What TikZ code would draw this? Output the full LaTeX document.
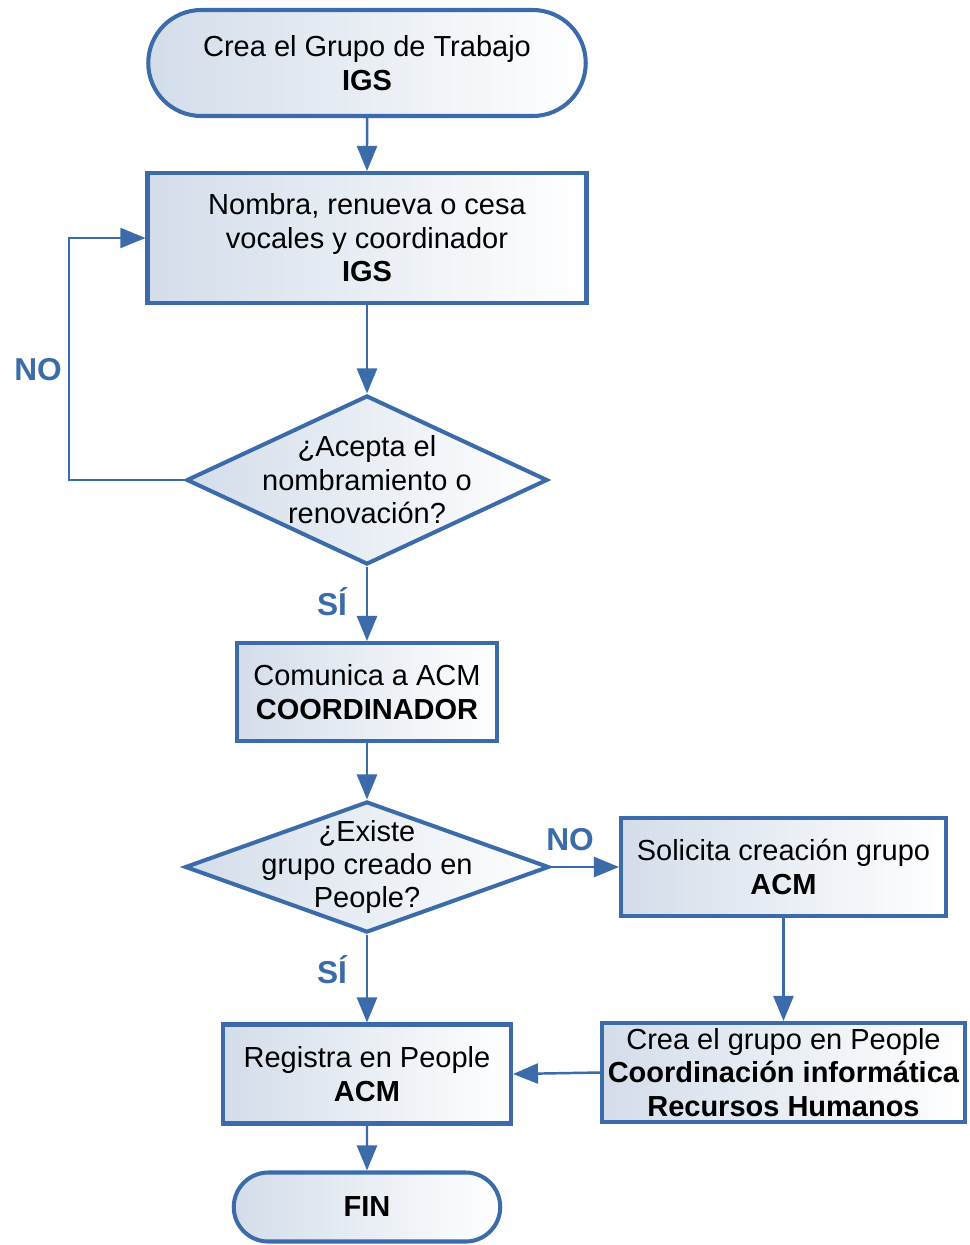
\documentclass[tikz,border=0pt]{standalone}
\usepackage{fontspec}
\setmainfont{Liberation Sans}
\usepackage{tikz}
\usetikzlibrary{arrows.meta,shapes.geometric,shapes.misc}

\definecolor{flowblue}{HTML}{3C6BA9}
\definecolor{flowfill}{HTML}{D3DDEA}
\newcommand{\zw}[1]{\makebox[0pt]{#1}}

\begin{document}
\begin{tikzpicture}[
			base/.style={draw=flowblue, line width=2.3pt, left color=flowfill, right color=white,
				font=\fontsize{16.5}{19}\selectfont, align=center, inner sep=1pt},
			term/.style={base, rounded rectangle},
			proc/.style={base, rectangle},
			decision/.style={base, diamond, inner sep=0pt},
			edge/.style={draw=flowblue, line width=1.4pt, -{Triangle[length=5mm,width=4mm]}},
			lab/.style={text=flowblue, font=\fontsize{18}{20}\selectfont\bfseries}
			]
			\useasboundingbox (0,0) rectangle (19.4,-24.9);
			
			% --------------------------------------------------------------------
			% main column
			% --------------------------------------------------------------------
			\node[term, minimum width=8.82cm, minimum height=2.12cm] (crea) at (7.34,-1.26)
				{Crea el Grupo de Trabajo\\ \textbf{IGS}};
			\node[proc, minimum width=8.78cm, minimum height=2.6cm] (nombra) at (7.34,-4.76)
				{Nombra, renueva o cesa\\ vocales y coordinador\\ \textbf{IGS}};
			\node[decision, minimum width=7.22cm, minimum height=3.38cm] (acepta) at (7.34,-9.6)
				{\zw{¿Acepta el}\\ \zw{nombramiento o}\\ \zw{renovación?}};
			\node[proc, minimum width=5.2cm, minimum height=1.96cm] (comunica) at (7.34,-13.84)
				{Comunica a ACM\\ \textbf{COORDINADOR}};
			\node[decision, minimum width=7.28cm, minimum height=2.62cm] (existe) at (7.34,-17.34)
				{\zw{¿Existe}\\ \zw{grupo creado en}\\ \zw{People?}};
			\node[proc, minimum width=5.76cm, minimum height=1.98cm] (registra) at (7.34,-21.48)
				{Registra en People\\ \textbf{ACM}};
			\node[term, minimum width=5.4cm, minimum height=1.38cm] (fin) at (7.34,-24.14)
				{\textbf{FIN}};
			
			% right column
			\node[proc, minimum width=6.5cm, minimum height=1.96cm] (solicita) at (15.67,-17.34)
				{Solicita creación grupo\\ \textbf{ACM}};
			\node[proc, minimum width=7.26cm, minimum height=1.98cm, inner sep=0pt] (creagrupo) at (15.67,-21.45)
				{Crea el grupo en People\\ \textbf{Coordinación informática}\\ \textbf{Recursos Humanos}};
			
			% loop back corner
			\coordinate (noturn) at (1.38,-9.6);
			
			% connectors
			\draw[edge] (crea) -- (nombra);
			\draw[edge] (nombra) -- (acepta);
			\draw[edge] (acepta) -- (comunica);
			\draw[edge] (comunica) -- (existe);
			\draw[edge] (existe) -- (registra);
			\draw[edge] (registra) -- (fin);
			\draw[edge] (existe.east) -- (solicita.west);
			\draw[edge] (solicita) -- (creagrupo);
			\draw[edge] (creagrupo.west) -- (registra.east);
			\draw[edge, line width=1.1pt] (acepta.west) -- (noturn) |- (nombra.west);
			
			% labels
			\node[lab] (noA) at (0.76,-7.4) {NO};
			\node[lab] (siA) at (6.64,-12.04) {SÍ};
			\node[lab] (siB) at (6.64,-19.4) {SÍ};
			\node[lab] (noB) at (11.4,-16.8) {NO};
			
		\end{tikzpicture}
\end{document}
